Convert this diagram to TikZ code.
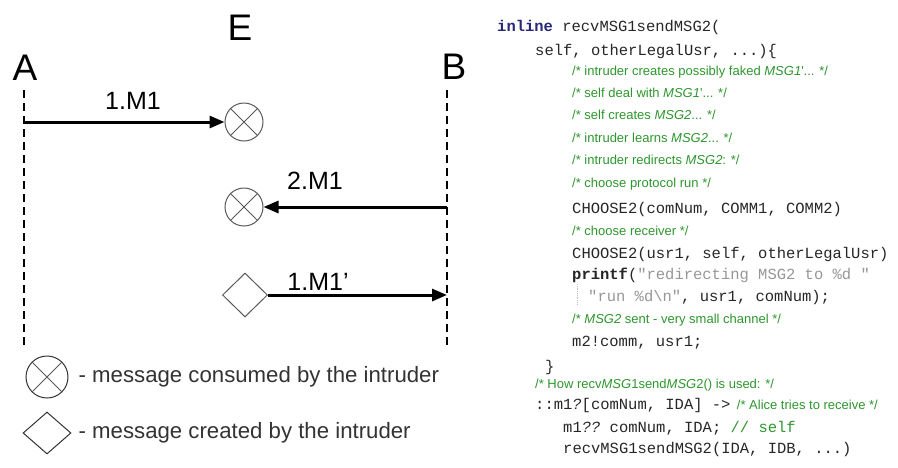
\documentclass[tikz,border=0pt]{standalone}
\usepackage{fontspec}
\setmainfont{Liberation Sans}
\setmonofont{Liberation Mono}
\newfontfamily\notefont{Liberation Sans}
\usetikzlibrary{arrows.meta, shapes.geometric, positioning}
\tikzset{x=1pt, y=-1pt, >={Triangle[length=15pt, width=12pt]}}
\definecolor{notegreen}{RGB}{45,150,45}
\definecolor{kwblue}{RGB}{40,40,120}
\definecolor{strgray}{RGB}{150,150,150}

\begin{document}
\begin{tikzpicture}
% Style
[
    line cap=butt,
    party/.style={font=\fontsize{37}{40}\selectfont, inner sep=0pt},
    lifeline/.style={line width=1.6pt, dash pattern=on 8pt off 5pt},
    message/.style={line width=3pt, ->},
    msg label/.style={font=\fontsize{25}{28}\selectfont, inner sep=0pt},
    consumed/.style={circle, draw=black!65, line width=1pt, minimum size=38pt, inner sep=0pt},
    created/.style={diamond, draw=black!65, line width=1pt, minimum width=45pt, minimum height=44pt, inner sep=0pt},
    cross line/.style={draw=black!65, line width=0.8pt},
    legend text/.style={font=\fontsize{22.2}{25}\selectfont, text=black!80, inner sep=0pt},
    code/.style={font=\ttfamily\fontsize{15.5}{18}\selectfont, anchor=base west, inner sep=0pt, text=black!85},
    note/.style={font=\notefont\fontsize{13}{15}\selectfont, anchor=base west, inner sep=0pt, text=notegreen},
    guide/.style={draw=black!25, densely dotted, line width=0.8pt}
]
\useasboundingbox (0,0) rectangle (898,467);

%=================================== Start ===================================
{
    % Define: Parties
    \node[party] (A) at (25,68) {A};
    \node[party] (E) at (240,28) {E};
    \node[party] (B) at (454,67) {B};

    \begin{scope}[lifeline]
        \coordinate (A top) at (24,90);
        \coordinate (A bot) at (24,348);
        \coordinate (B top) at (447,90);
        \coordinate (B bot) at (447,348);
        \draw (A top) -- (A bot);
        \draw (B top) -- (B bot);
    \end{scope}

    % Draw: Intruder
    \node[consumed] (c1) at (244,122) {};
    \node[consumed] (c2) at (244,207) {};
    \node[created]  (d1) at (245,295) {};

    % Draw: Messages
    \draw[message] (A top |- c1) -- (c1.west);
    \draw[message] (B top |- c2) -- (c2.east);
    \draw[message] (d1.east) -- (B top |- d1);
    \node[msg label] (m1)  at (133,101) {1.M1};
    \node[msg label] (m2)  at (315,181) {2.M1};
    \node[msg label] (m1p) at (318,282) {1.M1'};

    % Draw: Legend
    \node[consumed, draw=black!80, minimum size=42pt] (lc) at (47,377) {};
    \node[created, draw=black!80, minimum width=48pt, minimum height=42pt] (ld) at (47,433) {};
    \node[legend text, right=10pt of lc] (lc text) {- message consumed by the intruder};
    \node[legend text, right=7pt of ld] (ld text) {- message created by the intruder};

    \foreach \c in {c1,c2,lc} {
        \draw[cross line] (\c.45) -- (\c.225) (\c.135) -- (\c.315);
    }

    % Draw: Code
    \node[code] (l1)  at (497,31)  {\textcolor{kwblue}{\textbf{inline}} recvMSG1sendMSG2(};
    \node[code] (l2)  at (535,55)  {self, otherLegalUsr, ...)\{};
    \node[note] (l3)  at (572,75)  {/* intruder creates possibly faked \textit{MSG1}'... */};
    \node[note] (l4)  at (572,97)  {/* self deal with \textit{MSG1}'... */};
    \node[note] (l5)  at (572,119) {/* self creates \textit{MSG2}... */};
    \node[note] (l6)  at (572,142) {/* intruder learns \textit{MSG2}... */};
    \node[note] (l7)  at (572,164) {/* intruder redirects \textit{MSG2}: */};
    \node[note] (l8)  at (572,187) {/* choose protocol run */};
    \node[code] (l9)  at (572,213) {CHOOSE2(comNum, COMM1, COMM2)};
    \node[note] (l10) at (572,235) {/* choose receiver */};
    \node[code] (l11) at (572,258) {CHOOSE2(usr1, self, otherLegalUsr)};
    \node[code] (l12) at (572,279) {\textbf{printf}(\textcolor{strgray}{"redirecting MSG2 to \%d "}};
    \node[code] (l13) at (588,301) {\textcolor{strgray}{"run \%d\textbackslash n"}, usr1, comNum);};
    \node[note] (l14) at (572,323) {/* \textit{MSG2} sent - very small channel */};
    \node[code] (l15) at (572,346) {m2!comm, usr1;};
    \node[code] (l16) at (545,371) {\}};
    \node[note] (l17) at (535,388) {/* How recv\textit{MSG}1send\textit{MSG}2() is used: */};
    \node[code] (l18) at (535,409) {::m1\textit{?}[comNum, IDA] ->};
    \node[note] (l18 note) at ([xshift=6pt]l18.base east) {/* Alice tries to receive */};
    \node[code] (l19) at (563,432) {m1\textit{??} comNum, IDA; \textcolor{notegreen}{// self}};
    \node[code] (l20) at (563,453) {recvMSG1sendMSG2(IDA, IDB, ...)};

    \draw[guide] (577,284) -- (577,305);
}
%==================================== END ====================================

\end{tikzpicture}
\end{document}
